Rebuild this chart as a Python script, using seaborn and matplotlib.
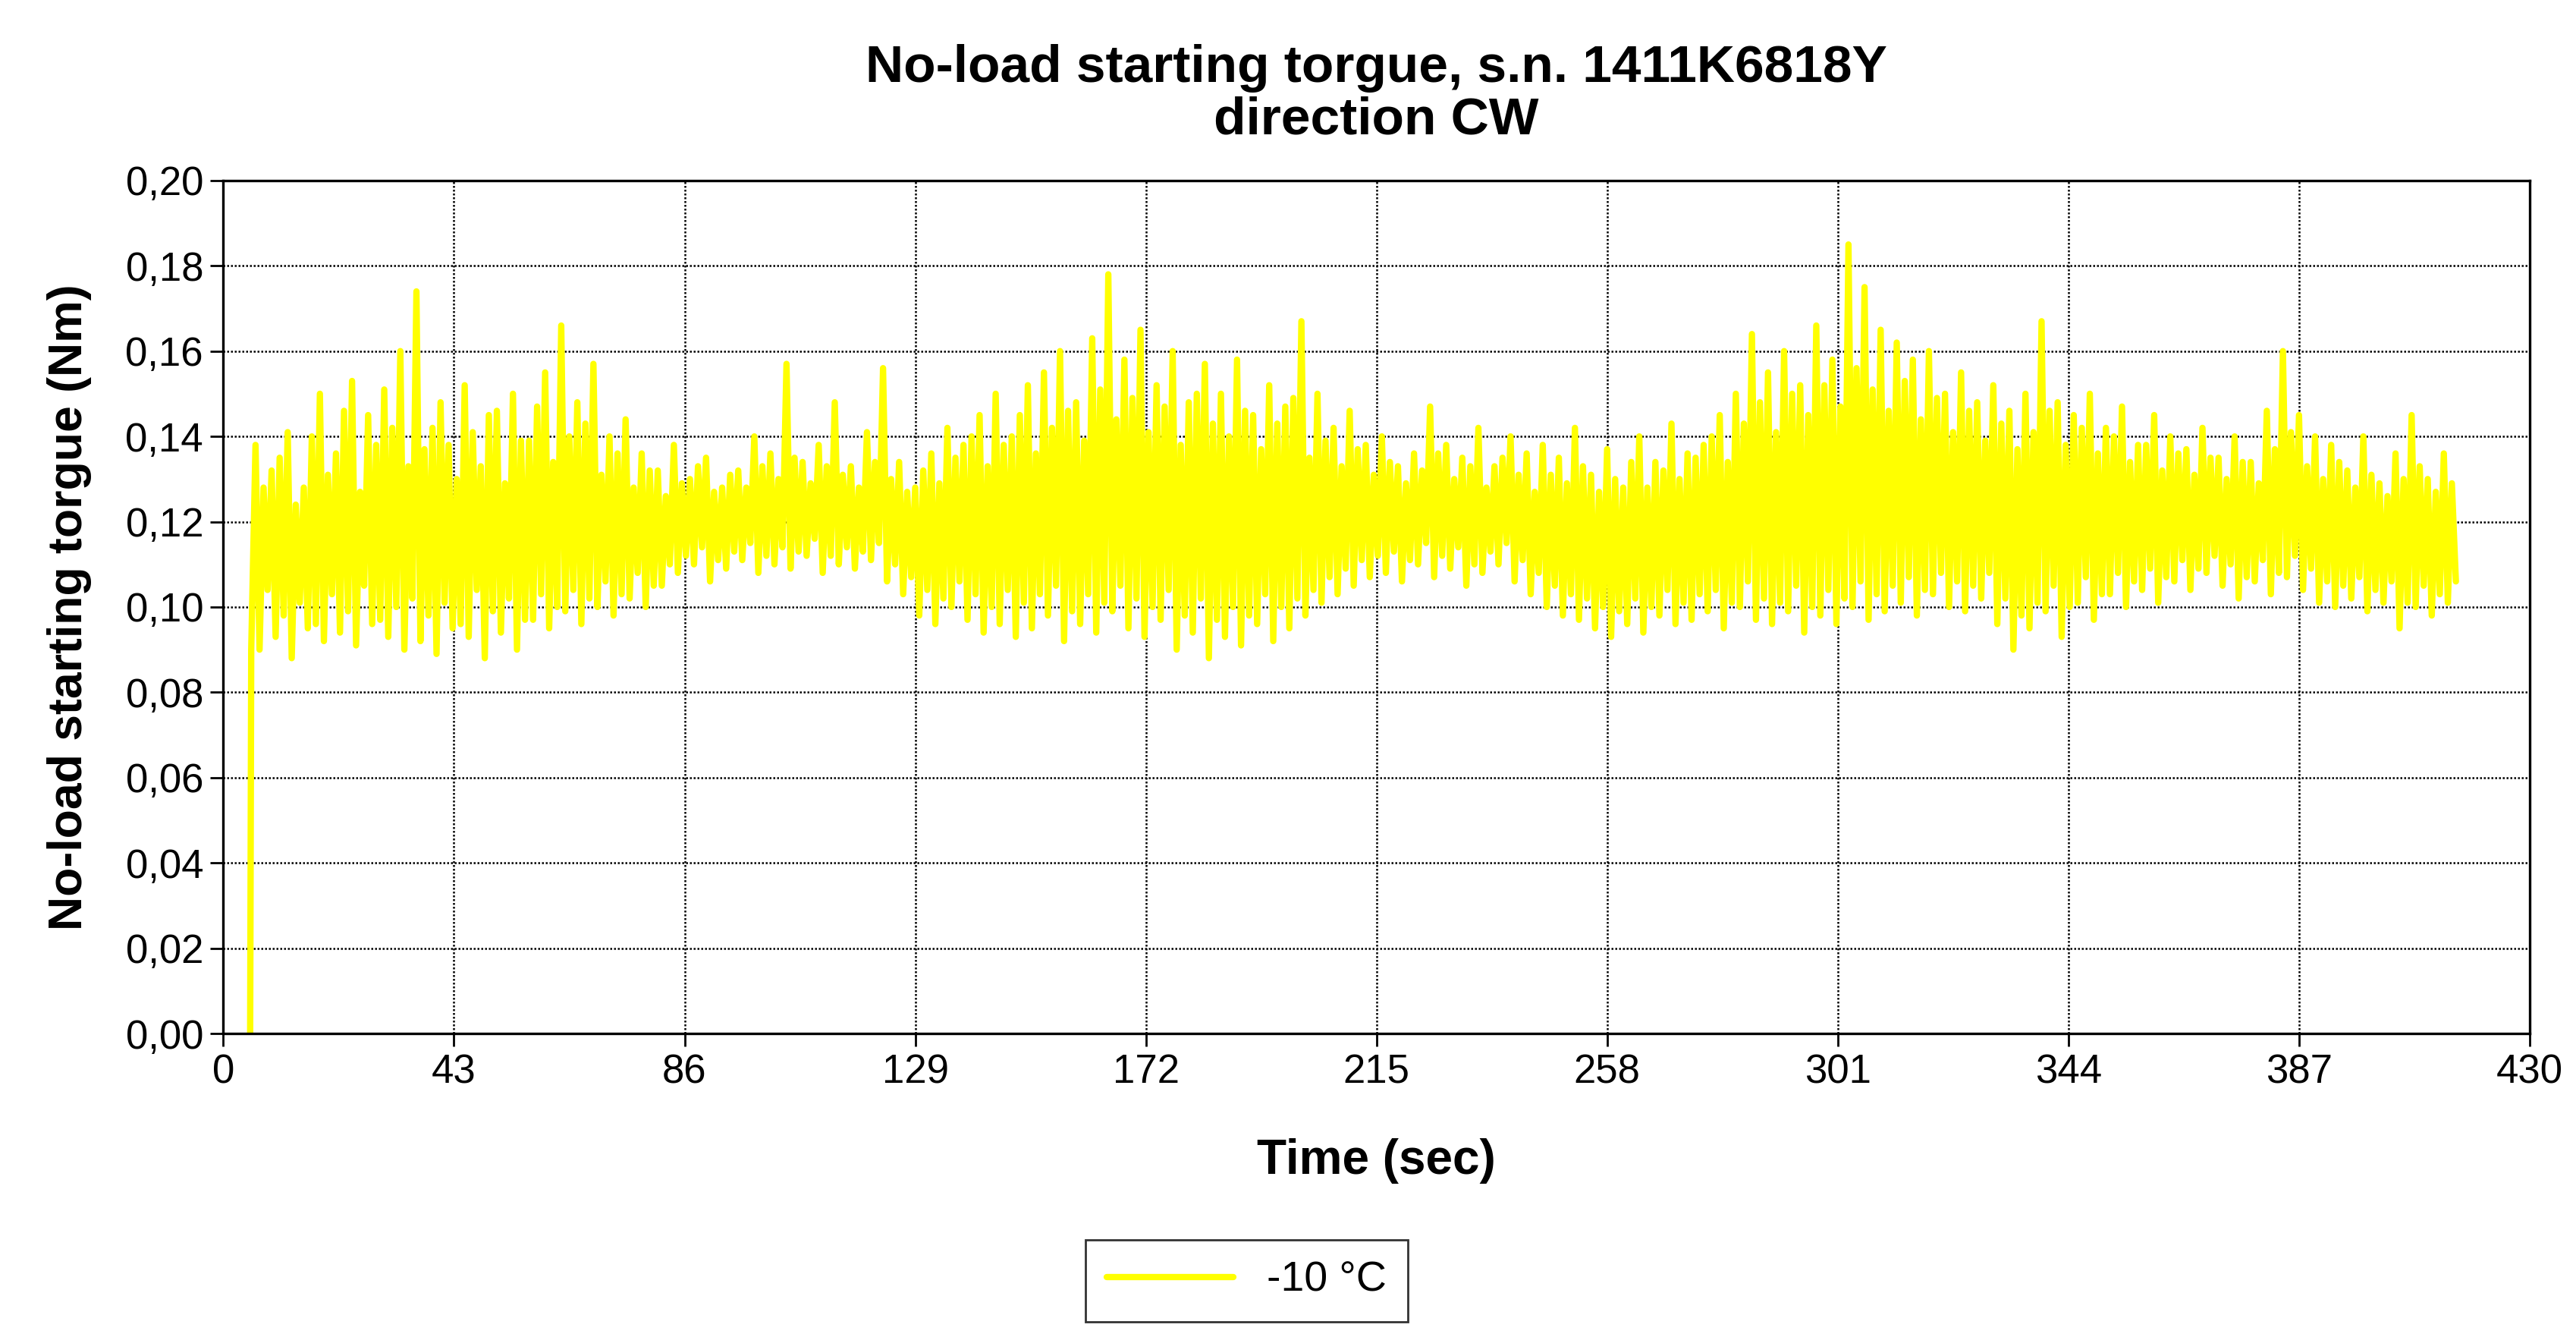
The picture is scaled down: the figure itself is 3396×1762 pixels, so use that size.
import numpy as np
import pandas as pd
import matplotlib
matplotlib.use("Agg")
import matplotlib.pyplot as plt
import seaborn as sns
from matplotlib.ticker import FuncFormatter

# main peaks and troughs (one pair every 3 s from 6 s)
highs = [
    0.138, 0.132, 0.141, 0.128, 0.150, 0.136, 0.153, 0.145, 0.151, 0.160,
    0.174, 0.142, 0.138, 0.152, 0.133, 0.146, 0.150, 0.139, 0.155, 0.166,
    0.148, 0.157, 0.140, 0.144, 0.136, 0.132, 0.138, 0.130, 0.135, 0.128,
    0.132, 0.140, 0.136, 0.157, 0.134, 0.138, 0.148, 0.133, 0.141, 0.156,
    0.134, 0.128, 0.136, 0.142, 0.138, 0.145, 0.150, 0.140, 0.152, 0.155,
    0.160, 0.148, 0.163, 0.178, 0.158, 0.165, 0.152, 0.160, 0.148, 0.157,
    0.150, 0.158, 0.145, 0.152, 0.147, 0.167, 0.150, 0.142, 0.146, 0.138,
    0.140, 0.133, 0.136, 0.147, 0.138, 0.135, 0.142, 0.133, 0.140, 0.136,
    0.138, 0.135, 0.142, 0.131, 0.137, 0.128, 0.140, 0.134, 0.143, 0.136,
    0.138, 0.145, 0.150, 0.164, 0.155, 0.160, 0.152, 0.166, 0.158, 0.185,
    0.175, 0.165, 0.162, 0.158, 0.160, 0.150, 0.155, 0.148, 0.152, 0.146,
    0.150, 0.167, 0.148, 0.145, 0.150, 0.142, 0.147, 0.138, 0.145, 0.140,
    0.137, 0.142, 0.135, 0.140, 0.134, 0.146, 0.160, 0.145, 0.140, 0.138,
    0.132, 0.140, 0.129, 0.136, 0.145, 0.130, 0.136,
]
lows = [
    0.090, 0.093, 0.088, 0.095, 0.092, 0.094, 0.091, 0.096, 0.093, 0.090,
    0.092, 0.089, 0.095, 0.093, 0.088, 0.094, 0.090, 0.097, 0.095, 0.099,
    0.096, 0.100, 0.098, 0.102, 0.100, 0.105, 0.108, 0.110, 0.106, 0.109,
    0.111, 0.108, 0.110, 0.109, 0.112, 0.108, 0.110, 0.109, 0.111, 0.106,
    0.103, 0.098, 0.096, 0.100, 0.097, 0.094, 0.096, 0.093, 0.095, 0.098,
    0.092, 0.096, 0.094, 0.099, 0.095, 0.093, 0.097, 0.090, 0.094, 0.088,
    0.093, 0.091, 0.096, 0.092, 0.095, 0.098, 0.101, 0.103, 0.105, 0.107,
    0.108, 0.106, 0.110, 0.107, 0.109, 0.105, 0.108, 0.110, 0.106, 0.103,
    0.100, 0.098, 0.097, 0.095, 0.093, 0.096, 0.094, 0.098, 0.096, 0.097,
    0.099, 0.095, 0.100, 0.097, 0.096, 0.099, 0.094, 0.098, 0.096, 0.100,
    0.097, 0.099, 0.101, 0.098, 0.103, 0.100, 0.099, 0.102, 0.096, 0.090,
    0.095, 0.099, 0.093, 0.101, 0.097, 0.103, 0.100, 0.104, 0.101, 0.106,
    0.104, 0.108, 0.105, 0.102, 0.106, 0.103, 0.107, 0.104, 0.101, 0.100,
    0.102, 0.099, 0.101, 0.095, 0.100, 0.098, 0.101,
]
# smaller in-between swings
sec_highs = [
    0.128, 0.135, 0.124, 0.140, 0.131, 0.146, 0.127, 0.138, 0.142, 0.133,
    0.137, 0.148, 0.130, 0.141, 0.145, 0.129, 0.139, 0.147, 0.134, 0.140,
    0.143, 0.131, 0.136, 0.128, 0.132, 0.126, 0.129, 0.133, 0.127, 0.131,
    0.128, 0.133, 0.130, 0.135, 0.129, 0.133, 0.131, 0.128, 0.134, 0.130,
    0.127, 0.132, 0.129, 0.135, 0.140, 0.133, 0.138, 0.145, 0.136, 0.142,
    0.146, 0.139, 0.151, 0.144, 0.149, 0.141, 0.147, 0.138, 0.150, 0.143,
    0.140, 0.146, 0.137, 0.143, 0.149, 0.135, 0.139, 0.133, 0.137, 0.131,
    0.134, 0.129, 0.132, 0.136, 0.130, 0.133, 0.128, 0.135, 0.131, 0.127,
    0.131, 0.129, 0.133, 0.127, 0.130, 0.134, 0.128, 0.132, 0.130, 0.135,
    0.140, 0.134, 0.143, 0.148, 0.141, 0.150, 0.145, 0.152, 0.147, 0.156,
    0.151, 0.146, 0.153, 0.144, 0.149, 0.141, 0.146, 0.139, 0.143, 0.137,
    0.141, 0.146, 0.138, 0.142, 0.136, 0.140, 0.134, 0.138, 0.132, 0.136,
    0.131, 0.135, 0.130, 0.134, 0.129, 0.137, 0.141, 0.133, 0.130, 0.134,
    0.128, 0.131, 0.126, 0.130, 0.133, 0.127, 0.129,
]
sec_lows = [
    0.104, 0.098, 0.101, 0.096, 0.103, 0.099, 0.105, 0.097, 0.100, 0.102,
    0.098, 0.101, 0.096, 0.104, 0.099, 0.102, 0.097, 0.103, 0.100, 0.104,
    0.102, 0.106, 0.103, 0.108, 0.105, 0.110, 0.112, 0.114, 0.111, 0.113,
    0.115, 0.112, 0.114, 0.113, 0.116, 0.112, 0.114, 0.113, 0.115, 0.110,
    0.107, 0.104, 0.102, 0.106, 0.103, 0.100, 0.104, 0.101, 0.103, 0.105,
    0.099, 0.103, 0.101, 0.105, 0.102, 0.100, 0.104, 0.098, 0.102, 0.097,
    0.100, 0.098, 0.103, 0.100, 0.102, 0.104, 0.107, 0.109, 0.111, 0.112,
    0.113, 0.111, 0.115, 0.112, 0.114, 0.110, 0.113, 0.115, 0.111, 0.108,
    0.105, 0.103, 0.102, 0.100, 0.099, 0.102, 0.100, 0.104, 0.101, 0.103,
    0.104, 0.101, 0.106, 0.102, 0.101, 0.105, 0.100, 0.104, 0.102, 0.106,
    0.103, 0.105, 0.107, 0.104, 0.108, 0.106, 0.105, 0.108, 0.102, 0.098,
    0.101, 0.105, 0.100, 0.107, 0.103, 0.108, 0.106, 0.109, 0.107, 0.111,
    0.109, 0.112, 0.110, 0.107, 0.111, 0.108, 0.112, 0.109, 0.106, 0.105,
    0.107, 0.104, 0.106, 0.101, 0.105, 0.103, 0.106,
]
start_time = [5.0, 5.2]
start_torque = [0.0, 0.090]

t0 = 6 + 3 * np.arange(len(highs))
time = np.concatenate([start_time, np.ravel(np.column_stack([t0, t0 + 0.75, t0 + 1.5, t0 + 2.25]))])
torque = np.concatenate([start_torque, np.ravel(np.column_stack([highs, lows, sec_highs, sec_lows]))])
df = pd.DataFrame({"Time": time, "Torque": torque, "series": "-10 °C"})

sns.set_style("white")
plt.rcParams["font.family"] = ["Liberation Sans", "DejaVu Sans"]
plt.rcParams["text.color"] = "black"
plt.rcParams["axes.labelcolor"] = "black"
plt.rcParams["xtick.color"] = "black"
plt.rcParams["ytick.color"] = "black"

fig = plt.figure(figsize=(16.98, 8.81), dpi=200)
ax = fig.add_axes([0.0867, 0.227, 0.8953, 0.638])

sns.lineplot(data=df, x="Time", y="Torque", hue="series", palette=["#ffff00"],
             linewidth=3, ax=ax, sort=False, estimator=None)

ax.set_xlim(0, 430)
ax.set_ylim(0, 0.20)
ax.set_xticks(np.arange(0, 431, 43))
ax.set_yticks(np.arange(0, 0.201, 0.02))
ax.yaxis.set_major_formatter(FuncFormatter(lambda v, p: f"{v:.2f}".replace(".", ",")))
ax.tick_params(labelsize=19, length=6, direction="out", left=True, bottom=True, width=1)
ax.grid(True, color="black", linestyle=(0, (1, 1)), linewidth=0.9)
for s in ax.spines.values():
    s.set_color("black")
    s.set_linewidth(1.2)

ax.set_xlabel("Time (sec)", fontsize=23, fontweight="bold", labelpad=22)
ax.set_ylabel("No-load starting torgue (Nm)", fontsize=22.5, fontweight="bold", labelpad=16)
ax.set_title("No-load starting torgue, s.n. 1411K6818Y\ndirection CW",
             fontsize=25, fontweight="bold", pad=22, linespacing=1.1)

ax.get_legend().remove()
fig.legend(*ax.get_legend_handles_labels(), loc="center", bbox_to_anchor=(0.484, 0.042),
           fontsize=20, frameon=True, fancybox=False, edgecolor="black",
           handlelength=3, borderpad=0.5, borderaxespad=0)

fig.savefig("out.png", dpi=200)
